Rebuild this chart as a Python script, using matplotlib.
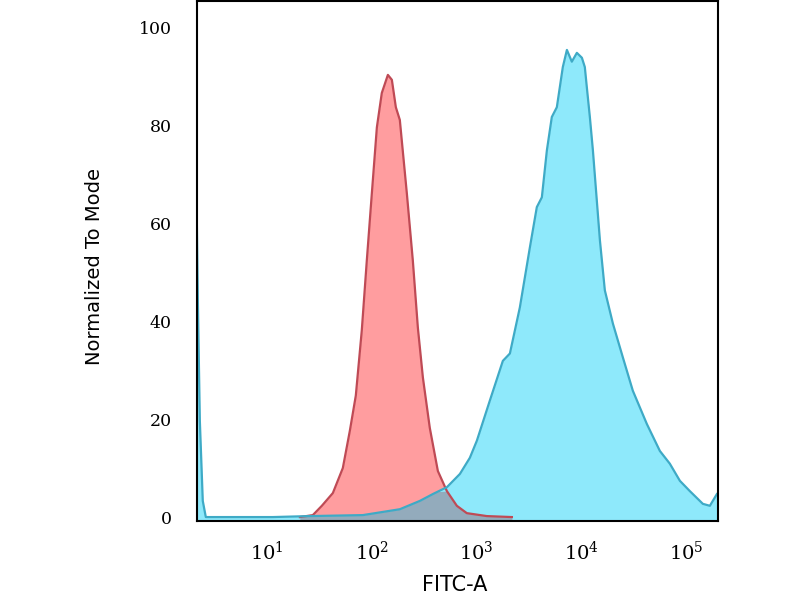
import matplotlib
matplotlib.use("Agg")
import matplotlib.pyplot as plt
from matplotlib.ticker import FixedLocator, FuncFormatter, NullLocator
import numpy as np

# positions in decades (log10 of FITC-A), heights in % of mode
# isotype control (red)
red_dec = [1.315, 1.439, 1.525, 1.630, 1.725, 1.792, 1.849, 1.906, 1.954, 2.002,
           2.050, 2.097, 2.155, 2.193, 2.231, 2.269, 2.336, 2.393, 2.441, 2.489,
           2.555, 2.632, 2.718, 2.813, 2.908, 3.099, 3.338]
red_val = [0.0, 0.4, 2.3, 4.9, 10.0, 17.6, 24.8, 38.1, 52.4, 66.1,
           79.6, 86.6, 90.3, 89.3, 83.7, 81.1, 66.1, 52.4, 38.7, 28.5,
           18.2, 9.4, 5.3, 2.3, 0.8, 0.2, 0.0]

# stained sample (blue)
blue_dec = [0.332, 0.342, 0.361, 0.389, 0.418, 0.742, 1.057, 1.410, 1.916, 2.269,
            2.460, 2.584, 2.718, 2.842, 2.937, 3.004, 3.128, 3.252, 3.319, 3.414,
            3.510, 3.576, 3.624, 3.672, 3.719, 3.767, 3.824, 3.863, 3.910, 3.958,
            4.006, 4.034, 4.053, 4.082, 4.111, 4.178, 4.225, 4.302, 4.397, 4.492,
            4.626, 4.750, 4.845, 4.941, 5.036, 5.160, 5.227, 5.294]
blue_val = [61.0, 44.2, 19.7, 3.3, 0.0, 0.0, 0.0, 0.2, 0.4, 1.6,
            3.3, 4.7, 6.1, 8.8, 12.1, 15.6, 23.8, 31.9, 33.4, 42.8,
            55.1, 63.3, 65.3, 74.9, 81.7, 83.7, 91.9, 95.4, 93.0, 94.8,
            93.8, 91.9, 87.8, 81.7, 74.9, 56.5, 46.3, 39.5, 32.6, 25.8,
            19.0, 13.5, 10.9, 7.4, 5.3, 2.7, 2.3, 4.7]

x_ticks = [10, 100, 1000, 10000, 100000]
y_ticks = [0, 20, 40, 60, 80, 100]

plt.rcParams['mathtext.fontset'] = 'dejavuserif'

rx = 10 ** np.array(red_dec)
ry = np.array(red_val)
bx = 10 ** np.array(blue_dec)
by = np.array(blue_val)

fig = plt.figure(figsize=(8, 6), dpi=100)
ax = fig.add_axes([0.246, 0.1317, 0.6513, 0.8667])

ymin = -0.8
ax.fill_between(rx, ry, ymin, color='#ff9d9f', lw=0)
ax.fill_between(bx, by, ymin, color='#8ee9fb', lw=0)

# overlap of the two histograms
lo, hi = max(red_dec[0], blue_dec[0]), min(red_dec[-1], blue_dec[-1])
grid = np.array(sorted(set(d for d in red_dec + blue_dec if lo <= d <= hi)))
ov = np.minimum(np.interp(grid, red_dec, red_val), np.interp(grid, blue_dec, blue_val))
ax.fill_between(10 ** grid, ov, ymin, color='#93abbc', lw=0)

ax.plot(rx, ry, color='#bf4a55', lw=1.6)
ax.plot(bx, by, color='#3eaac6', lw=1.6)

ax.set_xscale('log')
ax.set_xlim(10 ** 0.332, 10 ** 5.303)
ax.set_ylim(ymin, 105.4)

ax.xaxis.set_major_locator(FixedLocator(x_ticks))
ax.xaxis.set_minor_locator(NullLocator())
ax.xaxis.set_major_formatter(FuncFormatter(lambda v, p: r'$10^{%d}$' % round(np.log10(v))))
ax.set_yticks(y_ticks)
ax.tick_params(length=0)
ax.tick_params(axis='x', pad=14, labelsize=14)
ax.tick_params(axis='y', pad=18, labelsize=12.5)
for t in ax.get_yticklabels():
    t.set_family('DejaVu Serif')

for s in ax.spines.values():
    s.set_linewidth(1.5)
    s.set_color('black')
    s.set_zorder(5)

ax.set_xlabel('FITC-A', fontsize=15, family='DejaVu Sans')
ax.set_ylabel('Normalized To Mode', fontsize=14, family='DejaVu Sans')
ax.xaxis.set_label_coords(0.495, -0.104)
ax.yaxis.set_label_coords(-0.178, 0.49)

fig.savefig('out.png', dpi=100)
